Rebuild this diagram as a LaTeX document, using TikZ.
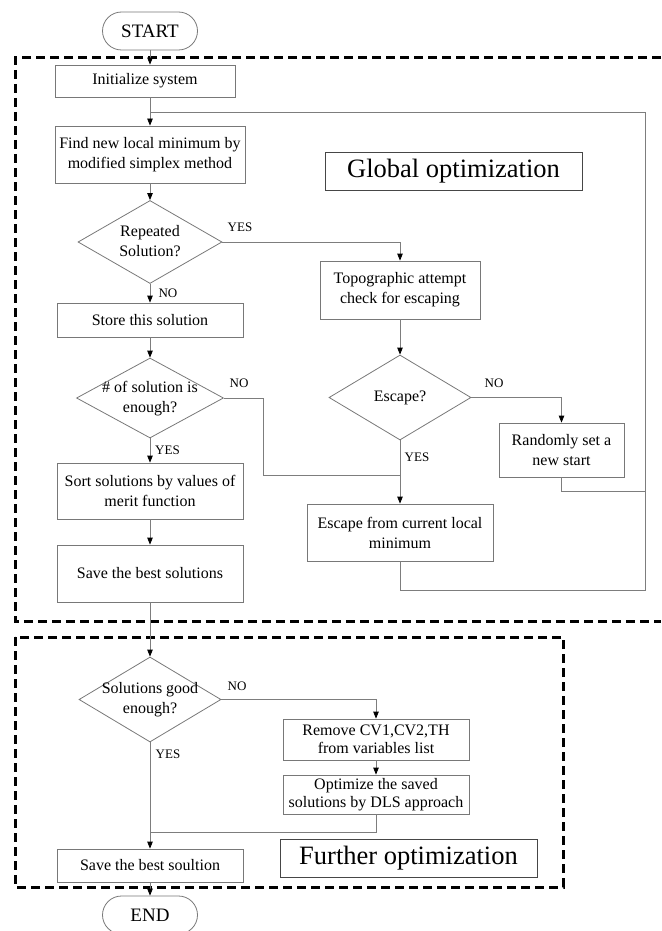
\documentclass[tikz,border=0pt]{standalone}
\usepackage{fontspec}
\setmainfont{Liberation Serif}
\usetikzlibrary{shapes.geometric,arrows.meta}
\definecolor{ln}{RGB}{125,125,125}
\definecolor{bx}{RGB}{120,120,120}
\definecolor{bxd}{RGB}{70,70,70}
\newcommand\fsb{\fontsize{16}{20}\selectfont}
\newcommand\dtext[1]{\makebox[0pt]{\raisebox{-0.3em}[0pt][0pt]{\begin{tabular}{@{}c@{}}#1\end{tabular}}}}
\begin{document}
\begin{tikzpicture}[x=1pt,y=-1pt,
  box/.style={draw=bx, line width=0.8pt, rectangle, inner sep=0pt, align=center, font=\fsb},
  dia/.style={draw=bx, line width=0.8pt, diamond, inner sep=0pt, font=\fsb},
  term/.style={draw=bx, line width=0.8pt, rectangle, rounded corners=19pt, minimum width=95pt, minimum height=38pt, inner sep=0pt, font=\fontsize{19}{22}\selectfont},
  title/.style={draw=bxd, line width=0.9pt, rectangle, inner sep=0pt, minimum width=257pt, minimum height=38pt, font=\fontsize{26.5}{30}\selectfont},
  lab/.style={font=\fontsize{13}{15}\selectfont, inner sep=0pt},
  conn/.style={draw=ln, line width=0.8pt},
  arr/.style={conn, -{Triangle[length=7pt,width=5.5pt,color=black]}},
  dsh/.style={draw=black, line width=3pt, dash pattern=on 9pt off 5pt}]
\useasboundingbox (0,0) rectangle (661,931);

% dashed frames
\draw[dsh] (661,58) -- (15,58) -- (15,621) -- (661,621);
\draw[dsh] (15,637) rectangle (563,887);

% nodes
\node[term] (start) at (150,31) {START};
\node[box, minimum width=180pt, minimum height=32pt] (init) at (145,81) {Initialize system};
\node[box, minimum width=190pt, minimum height=57pt] (find) at (150,154.5) {Find new local minimum by\\modified simplex method};
\node[title] (glob) at (453.5,171) {Global optimization};
\node[dia, minimum width=144pt, minimum height=83pt] (rep) at (150,242) {\dtext{Repeated\\Solution?}};
\node[box, minimum width=160pt, minimum height=58pt] (topo) at (400,290) {Topographic attempt\\check for escaping};
\node[box, minimum width=186pt, minimum height=34pt] (store) at (150,320) {Store this solution};
\node[dia, minimum width=147pt, minimum height=80pt] (num) at (150,398) {\dtext{\# of solution is\\enough?}};
\node[dia, minimum width=142pt, minimum height=85pt] (escd) at (400,397.5) {\dtext{Escape?}};
\node[box, minimum width=125pt, minimum height=54pt] (rand) at (561.5,450) {Randomly set a\\new start};
\node[box, minimum width=186pt, minimum height=56pt] (sort) at (150,491) {Sort solutions by values of\\merit function};
\node[box, minimum width=186pt, minimum height=57pt] (esc) at (400,532.5) {Escape from current local\\minimum};
\node[box, minimum width=186pt, minimum height=57pt] (save) at (150,573.5) {Save the best solutions};
\node[dia, minimum width=142pt, minimum height=85pt] (good) at (150,699.5) {\dtext{Solutions good\\enough?}};
\node[box, minimum width=186pt, minimum height=41pt, font=\fontsize{16}{18}\selectfont] (rem) at (376,739.5) {Remove CV1,CV2,TH\\from variables list};
\node[box, minimum width=186pt, minimum height=39pt, font=\fontsize{16}{18}\selectfont] (opt) at (376,794.5) {Optimize the saved\\solutions by DLS approach};
\node[title] (furth) at (408.5,858) {Further optimization};
\node[box, minimum width=186pt, minimum height=33pt] (best) at (150,865.5) {Save the best soultion};
\node[term] (endn) at (150,915) {END};

% helper coordinates
\coordinate (lr) at (645,590);
\coordinate (ur) at (645,112);
\coordinate (lj) at (150,112);
\coordinate (rj) at (645,491);
\coordinate (nb) at (263,475);
\coordinate (nj) at (400,475);
\coordinate (gj) at (150,832);

% connectors
\draw[arr] (start.south) -- (start.south |- init.north);
\draw[arr] (find.north |- init.south) -- (find.north);
\draw[conn] (esc.south) |- (lr) -- (ur) -- (lj);
\draw[conn] (rand.south) |- (rj);
\draw[arr] (find.south) -- (rep.north);
\draw[arr] (rep.east) -| (topo.north);
\draw[arr] (rep.south) -- (store.north);
\draw[arr] (store.south) -- (num.north);
\draw[conn] (num.east) -| (nb) -- (nj);
\draw[arr] (num.south) -- (sort.north);
\draw[arr] (sort.south) -- (save.north);
\draw[arr] (save.south) -- (good.north);
\draw[arr] (topo.south) -- (escd.north);
\draw[arr] (escd.east) -| (rand.north);
\draw[arr] (escd.south) -- (esc.north);
\draw[arr] (good.east) -| (rem.north);
\draw[arr] (rem.south) -- (opt.north);
\draw[conn] (opt.south) |- (gj);
\draw[arr] (good.south) -- (best.north);
\draw[arr] (best.south) -- (endn.north);

% labels
\node[lab] (l1) at (240,227) {YES};
\node[lab] (l2) at (168,293) {NO};
\node[lab] (l3) at (239,383) {NO};
\node[lab] (l4) at (167.5,450) {YES};
\node[lab] (l5) at (494,383) {NO};
\node[lab] (l6) at (417,457) {YES};
\node[lab] (l7) at (237,686) {NO};
\node[lab] (l8) at (168,754) {YES};
\end{tikzpicture}
\end{document}
